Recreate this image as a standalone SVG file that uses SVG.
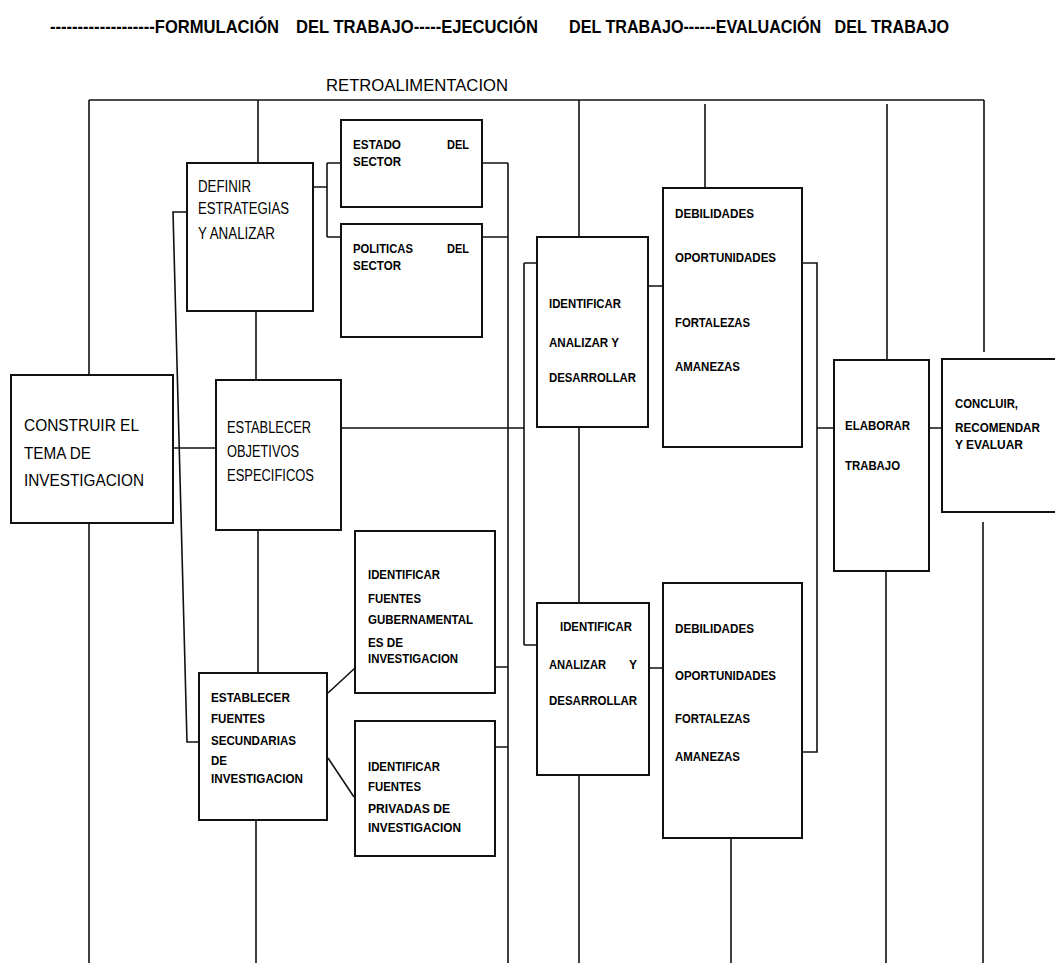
<svg xmlns="http://www.w3.org/2000/svg" width="1055" height="963" viewBox="0 0 1055 963">
<style>
.bx{fill:#fff;stroke:#111;stroke-width:2}
.ln{fill:none;stroke:#111;stroke-width:1.6}
text{font-family:"Liberation Sans",Arial,sans-serif;fill:#000}
.t{font-weight:bold;font-size:18px;white-space:pre}
.r{font-size:17px}
.m{font-size:16px}
.s{font-weight:bold;font-size:13.5px}
</style>
<rect width="1055" height="963" fill="#fff"/>
<g id="title">
<text class="t" x="50" y="33" textLength="229" lengthAdjust="spacingAndGlyphs">-------------------FORMULACIÓN</text>
<text class="t" x="296" y="33" textLength="242" lengthAdjust="spacingAndGlyphs">DEL TRABAJO-----EJECUCIÓN</text>
<text class="t" x="569" y="33" textLength="380" lengthAdjust="spacingAndGlyphs">DEL TRABAJO------EVALUACIÓN   DEL TRABAJO</text>
</g>
<g id="retro">
<text class="r" x="326" y="91" textLength="182" lengthAdjust="spacingAndGlyphs">RETROALIMENTACION</text>
</g>
<g id="connectors">
<path class="ln" d="M89,100 H984 M89,100 V375 M89,523 V963 M258,100 V163 M256,311 V380 M258,530 V673 M256,820 V963"/>
<path class="ln" d="M313,187 H327 M327,163 V237 M327,163 H341 M327,237 H341"/>
<path class="ln" d="M482,163 H508 M482,237 H508 M508,163 V963 M495,667 H508 M495,747 H508"/>
<path class="ln" d="M187,212 H173 L187,742 H199"/>
<path class="ln" d="M173,448 H216 M341,428 H524 M524,263 V645 M524,263 H537 M524,645 H537"/>
<path class="ln" d="M579,100 V237 M579,427 V603 M579,775 V963 M648,286 H663 M649,668 H663"/>
<path class="ln" d="M705,104 V188 M731,838 V963 M802,263 H817 V752 H802 M817,428 H834 M887,104 V362 M886,571 V963 M929,428 H942 M984,100 V352 M983,522 V963"/>
<path class="ln" d="M328,693 L355,668 M328,758 L354,797"/>
</g>
<g id="construir">
<rect class="bx" x="11" y="375" width="162" height="148"/>
<text class="r" x="24" y="431" textLength="115" lengthAdjust="spacingAndGlyphs">CONSTRUIR EL</text>
<text class="r" x="24" y="459" textLength="67" lengthAdjust="spacingAndGlyphs">TEMA DE</text>
<text class="r" x="24" y="486" textLength="120" lengthAdjust="spacingAndGlyphs">INVESTIGACION</text>
</g>
<g id="definir">
<rect class="bx" x="187" y="163" width="126" height="148"/>
<text class="m" x="198" y="192" textLength="53" lengthAdjust="spacingAndGlyphs">DEFINIR</text>
<text class="m" x="198" y="214" textLength="91" lengthAdjust="spacingAndGlyphs">ESTRATEGIAS</text>
<text class="m" x="198" y="239" textLength="77" lengthAdjust="spacingAndGlyphs">Y ANALIZAR</text>
</g>
<g id="estado">
<rect class="bx" x="341" y="120" width="141" height="87"/>
<text class="s" x="353" y="149" textLength="48" lengthAdjust="spacingAndGlyphs">ESTADO</text>
<text class="s" x="447" y="149" textLength="22" lengthAdjust="spacingAndGlyphs">DEL</text>
<text class="s" x="353" y="166" textLength="48" lengthAdjust="spacingAndGlyphs">SECTOR</text>
</g>
<g id="politicas">
<rect class="bx" x="341" y="224" width="141" height="113"/>
<text class="s" x="353" y="253" textLength="60" lengthAdjust="spacingAndGlyphs">POLITICAS</text>
<text class="s" x="447" y="253" textLength="22" lengthAdjust="spacingAndGlyphs">DEL</text>
<text class="s" x="353" y="270" textLength="48" lengthAdjust="spacingAndGlyphs">SECTOR</text>
</g>
<g id="objetivos">
<rect class="bx" x="216" y="380" width="125" height="150"/>
<text class="m" x="227" y="433" textLength="84" lengthAdjust="spacingAndGlyphs">ESTABLECER</text>
<text class="m" x="227" y="457" textLength="72" lengthAdjust="spacingAndGlyphs">OBJETIVOS</text>
<text class="m" x="227" y="481" textLength="87" lengthAdjust="spacingAndGlyphs">ESPECIFICOS</text>
</g>
<g id="gubernamentales">
<rect class="bx" x="355" y="531" width="140" height="162"/>
<text class="s" x="368" y="579" textLength="72" lengthAdjust="spacingAndGlyphs">IDENTIFICAR</text>
<text class="s" x="368" y="603" textLength="53" lengthAdjust="spacingAndGlyphs">FUENTES</text>
<text class="s" x="368" y="624" textLength="105" lengthAdjust="spacingAndGlyphs">GUBERNAMENTAL</text>
<text class="s" x="368" y="647" textLength="35" lengthAdjust="spacingAndGlyphs">ES DE</text>
<text class="s" x="368" y="663" textLength="90" lengthAdjust="spacingAndGlyphs">INVESTIGACION</text>
</g>
<g id="secundarias">
<rect class="bx" x="199" y="673" width="128" height="147" stroke-width="2.5"/>
<text class="s" x="211" y="702" textLength="79" lengthAdjust="spacingAndGlyphs">ESTABLECER</text>
<text class="s" x="211" y="723" textLength="54" lengthAdjust="spacingAndGlyphs">FUENTES</text>
<text class="s" x="211" y="745" textLength="85" lengthAdjust="spacingAndGlyphs">SECUNDARIAS</text>
<text class="s" x="211" y="765" textLength="16" lengthAdjust="spacingAndGlyphs">DE</text>
<text class="s" x="211" y="783" textLength="92" lengthAdjust="spacingAndGlyphs">INVESTIGACION</text>
</g>
<g id="privadas">
<rect class="bx" x="355" y="721" width="140" height="135"/>
<text class="s" x="368" y="771" textLength="72" lengthAdjust="spacingAndGlyphs">IDENTIFICAR</text>
<text class="s" x="368" y="791" textLength="53" lengthAdjust="spacingAndGlyphs">FUENTES</text>
<text class="s" x="368" y="813" textLength="82" lengthAdjust="spacingAndGlyphs">PRIVADAS DE</text>
<text class="s" x="368" y="832" textLength="93" lengthAdjust="spacingAndGlyphs">INVESTIGACION</text>
</g>
<g id="identificar1">
<rect class="bx" x="537" y="237" width="111" height="190"/>
<text class="s" x="549" y="308" textLength="72" lengthAdjust="spacingAndGlyphs">IDENTIFICAR</text>
<text class="s" x="549" y="347" textLength="70" lengthAdjust="spacingAndGlyphs">ANALIZAR Y</text>
<text class="s" x="549" y="382" textLength="87" lengthAdjust="spacingAndGlyphs">DESARROLLAR</text>
</g>
<g id="foda1">
<rect class="bx" x="663" y="188" width="139" height="259"/>
<text class="s" x="675" y="218" textLength="79" lengthAdjust="spacingAndGlyphs">DEBILIDADES</text>
<text class="s" x="675" y="262" textLength="101" lengthAdjust="spacingAndGlyphs">OPORTUNIDADES</text>
<text class="s" x="675" y="327" textLength="75" lengthAdjust="spacingAndGlyphs">FORTALEZAS</text>
<text class="s" x="675" y="371" textLength="65" lengthAdjust="spacingAndGlyphs">AMANEZAS</text>
</g>
<g id="identificar2">
<rect class="bx" x="537" y="603" width="112" height="172"/>
<text class="s" x="560" y="631" textLength="72" lengthAdjust="spacingAndGlyphs">IDENTIFICAR</text>
<text class="s" x="549" y="669" textLength="57" lengthAdjust="spacingAndGlyphs">ANALIZAR</text>
<text class="s" x="629" y="669" textLength="8" lengthAdjust="spacingAndGlyphs">Y</text>
<text class="s" x="549" y="705" textLength="88" lengthAdjust="spacingAndGlyphs">DESARROLLAR</text>
</g>
<g id="foda2">
<rect class="bx" x="663" y="583" width="139" height="255"/>
<text class="s" x="675" y="633" textLength="79" lengthAdjust="spacingAndGlyphs">DEBILIDADES</text>
<text class="s" x="675" y="680" textLength="101" lengthAdjust="spacingAndGlyphs">OPORTUNIDADES</text>
<text class="s" x="675" y="723" textLength="75" lengthAdjust="spacingAndGlyphs">FORTALEZAS</text>
<text class="s" x="675" y="761" textLength="65" lengthAdjust="spacingAndGlyphs">AMANEZAS</text>
</g>
<g id="elaborar">
<rect class="bx" x="834" y="360" width="95" height="211"/>
<text class="s" x="845" y="430" textLength="65" lengthAdjust="spacingAndGlyphs">ELABORAR</text>
<text class="s" x="845" y="470" textLength="55" lengthAdjust="spacingAndGlyphs">TRABAJO</text>
</g>
<g id="concluir">
<rect class="bx" x="942" y="359" width="120" height="153"/>
<text class="s" x="955" y="408" textLength="63" lengthAdjust="spacingAndGlyphs">CONCLUIR,</text>
<text class="s" x="955" y="432" textLength="85" lengthAdjust="spacingAndGlyphs">RECOMENDAR</text>
<text class="s" x="955" y="449" textLength="68" lengthAdjust="spacingAndGlyphs">Y EVALUAR</text>
</g>
</svg>
